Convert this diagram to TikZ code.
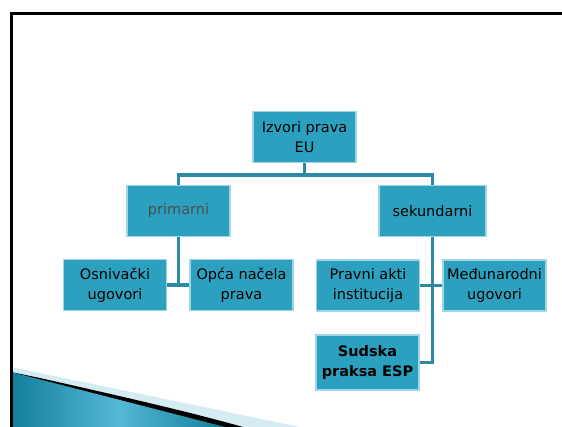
\documentclass[tikz,border=0pt]{standalone}
\usepackage{fontspec}
\setmainfont{DejaVu Sans}
\usetikzlibrary{positioning, calc}
\definecolor{boxfill}{HTML}{2CA1BF}
\definecolor{boxline}{HTML}{9FD6E6}
\definecolor{linkcol}{HTML}{2E8AA2}
\definecolor{swdark}{HTML}{137E99}
\definecolor{swlight}{HTML}{55B8D6}
\definecolor{swpale}{HTML}{D6ECF3}
\tikzset{
    srcbox/.style={rectangle, fill=boxfill, draw=boxline, line width=1.2pt,
        minimum width=103pt, minimum height=51pt, inner sep=1pt,
        align=center, font=\fontsize{14.5}{20}\selectfont},
    link/.style={draw=linkcol, line width=3.5pt}
}

\begin{document}
\begin{tikzpicture}[x=1pt, y=-1pt]
        \useasboundingbox (0,0) rectangle (562,427);
        \fill[white] (0,0) rectangle (562,427);

        % bottom swoosh
        \fill[swpale] (11,367) -- (300,427) -- (11,427) -- cycle;
        \fill[black] (40,378) .. controls (120,396) and (190,412) .. (243,427) -- (11,427) -- (11,372) -- cycle;
        \shade[left color=swdark, right color=swdark, middle color=swlight]
            (11,372) -- (225,427) -- (11,427) -- cycle;

        % frame
        \draw[line width=3pt] (11,427) -- (11,13.5) -- (562,13.5);

        % boxes
        \node[srcbox] (izvori) at (304.5,137) {Izvori prava\\EU};
        \node[srcbox, text=black!70] (prim) at (178.5,211) {primarni};
        \node[srcbox, minimum width=107pt] (sek) at (432.5,211) {sekundarni};
        \node[srcbox] (osn) at (115,285) {Osnivački\\ugovori};
        \node[srcbox] (opca) at (241.5,285) {Opća načela\\prava};
        \node[srcbox] (pravni) at (368,285.5) {Pravni akti\\institucija};
        \node[srcbox] (medj) at (494.5,285.5) {Međunarodni\\ugovori};
        \node[srcbox, minimum height=55pt, font=\fontsize{14.5}{20}\selectfont\bfseries]
            (sudska) at (367.5,362.5) {Sudska\\praksa ESP};

        % connectors
        \coordinate (split) at ($(izvori.south)+(0,12)$);
        \coordinate (primT) at (prim.south |- osn.east);
        \coordinate (sekEnd) at (sek.south |- sudska.east);

        \draw[link] (izvori.south) -- (split);
        \draw[link] (split) -| (prim.north);
        \draw[link] (split) -| (sek.north);
        \draw[link] (prim.south) -- (primT);
        \draw[link] (osn.east) -- (opca.west);
        \draw[link] (sek.south) -- (sekEnd) -- (sudska.east);
        \draw[link] (pravni.east) -- (medj.west);
    \end{tikzpicture}
\end{document}
